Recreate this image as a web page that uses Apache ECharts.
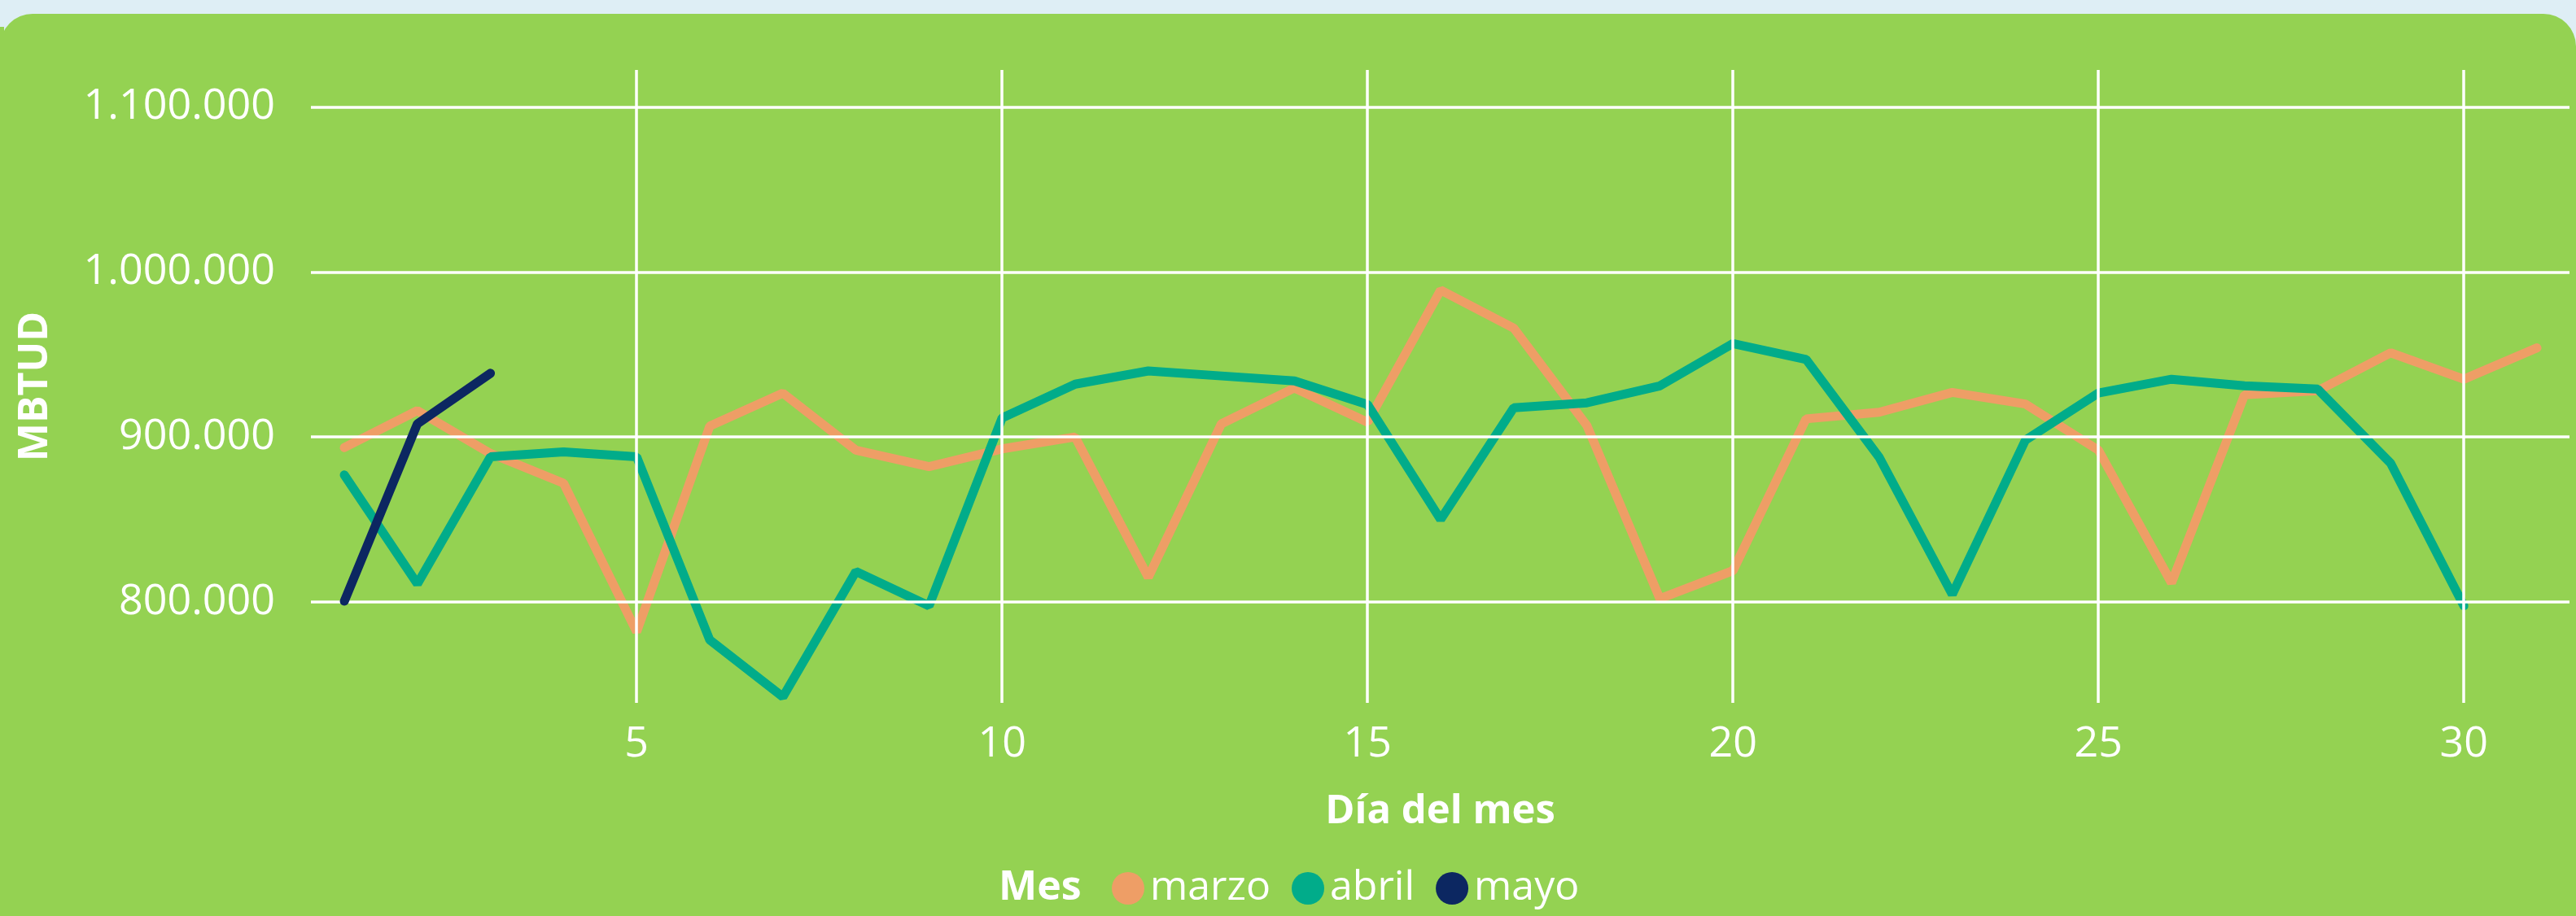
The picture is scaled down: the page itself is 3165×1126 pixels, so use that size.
<!DOCTYPE html>
<html><head><meta charset="utf-8">
<script src="https://cdn.jsdelivr.net/npm/echarts@6/dist/echarts.min.js"></script>
<style>
html,body{margin:0;padding:0;background:#DEEEF5;width:3165px;height:1126px;overflow:hidden;}
#card{position:absolute;left:0;top:17px;width:3165px;height:1109px;background:#94D252;border-radius:40px 40px 0 0;}
#notch{position:absolute;left:0;top:33px;width:5px;height:60px;background:#94D252;}
#chart{position:absolute;left:0;top:17px;width:3165px;height:1109px;}
</style></head><body>
<div id="card"></div><div id="notch"></div><div id="chart"></div>
<script>
const days = [1,2,3,4,5,6,7,8,9,10,11,12,13,14,15,16,17,18,19,20,21,22,23,24,25,26,27,28,29,30,31];
const marzo = [893600, 916000, 890000, 872000, 782000, 906600, 926600, 892000, 882000, 892800,
               900000, 815000, 908000, 929700, 909000, 989000, 966000, 907000, 802000, 819000,
               911000, 915000, 927000, 920000, 892000, 811600, 925600, 928000, 951000, 935000, 954000];
const abril = [877000, 811000, 888000, 891000, 888000, 777000, 742500, 818500, 797700, 911500,
               932000, 940000, 937000, 934000, 919700, 850000, 917700, 920700, 931000, 956600,
               947000, 887700, 804600, 898000, 926600, 935000, 931000, 929000, 884000, 797700];
const mayo = [800500, 908000, 938600];
const seriesNames = ['marzo', 'abril', 'mayo'];
const seriesColors = ['#EE9E66', '#01AC8A', '#0C2761'];
const xTicks = [5, 10, 15, 20, 25, 30];
const yTicks = [800000, 900000, 1000000, 1100000];
const xTitle = 'Día del mes';
const yTitle = 'MBTUD';
const legendTitle = 'Mes';

const FONT = "'Open Sans', 'Noto Sans', sans-serif";
const fmt = v => String(v).replace(/\B(?=(\d{3})+(?!\d))/g, '.');
const pairs = arr => arr.map((v, i) => [days[i], v]);

const chart = echarts.init(document.getElementById('chart'), null, {renderer: 'canvas'});
const gridLines = xTicks.map(v => ({xAxis: v})).concat(yTicks.map(v => ({yAxis: v})));

chart.setOption({
  backgroundColor: 'transparent',
  animation: false,
  textStyle: {fontFamily: FONT},
  grid: {left: 382, right: 8, top: 69, bottom: 262, containLabel: false},
  xAxis: {
    type: 'value', min: 0.543, max: 31.445,
    axisLine: {show: false}, axisTick: {show: false}, splitLine: {show: false},
    axisLabel: {color: '#fff', fontSize: 52, fontFamily: FONT, margin: 25,
      formatter: v => (Math.abs(v - Math.round(v)) < 1e-6 && xTicks.includes(Math.round(v))) ? String(Math.round(v)) : ''},
    name: xTitle, nameLocation: 'middle', nameGap: 110,
    nameTextStyle: {color: '#fff', fontSize: 49, fontWeight: 'bold', fontFamily: FONT}
  },
  yAxis: {
    type: 'value', min: 738900, max: 1122400,
    axisLine: {show: false}, axisTick: {show: false}, splitLine: {show: false},
    axisLabel: {color: '#fff', fontSize: 52, fontFamily: FONT, margin: 44,
      formatter: v => yTicks.includes(v) ? fmt(v) : ''},
    name: yTitle, nameLocation: 'middle', nameGap: 313, nameRotate: 90,
    nameTextStyle: {color: '#fff', fontSize: 50, fontWeight: 'bold', fontFamily: FONT}
  },
  legend: {
    data: seriesNames, left: 1361, top: 1045, itemWidth: 40, itemHeight: 40, itemGap: 26,
    icon: 'circle',
    textStyle: {color: '#fff', fontSize: 50, fontFamily: FONT, padding: [0, 0, 0, 2]}
  },
  graphic: [{
    type: 'text', x: 1227, y: 1075, silent: true,
    style: {text: legendTitle, fill: '#fff', font: "bold 50px " + FONT, verticalAlign: 'middle'}
  }],
  series: [
    {type: 'line', name: '_grid', data: [[1, 800000]], symbol: 'none', z: 1,
     lineStyle: {opacity: 0}, silent: true, legendHoverLink: false,
     markLine: {silent: true, symbol: ['none', 'none'], label: {show: false},
       lineStyle: {color: '#fff', width: 3.5, type: 'solid'}, data: gridLines, animation: false}},
    {type: 'line', name: seriesNames[0], data: pairs(marzo), symbol: 'none', z: 3,
     itemStyle: {color: seriesColors[0]}, lineStyle: {color: seriesColors[0], width: 11, cap: 'round'}},
    {type: 'line', name: seriesNames[1], data: pairs(abril), symbol: 'none', z: 4,
     itemStyle: {color: seriesColors[1]}, lineStyle: {color: seriesColors[1], width: 11, cap: 'round'}},
    {type: 'line', name: seriesNames[2], data: pairs(mayo), symbol: 'none', z: 5,
     itemStyle: {color: seriesColors[2]}, lineStyle: {color: seriesColors[2], width: 11, cap: 'round'}}
  ]
});
</script>
</body></html>
